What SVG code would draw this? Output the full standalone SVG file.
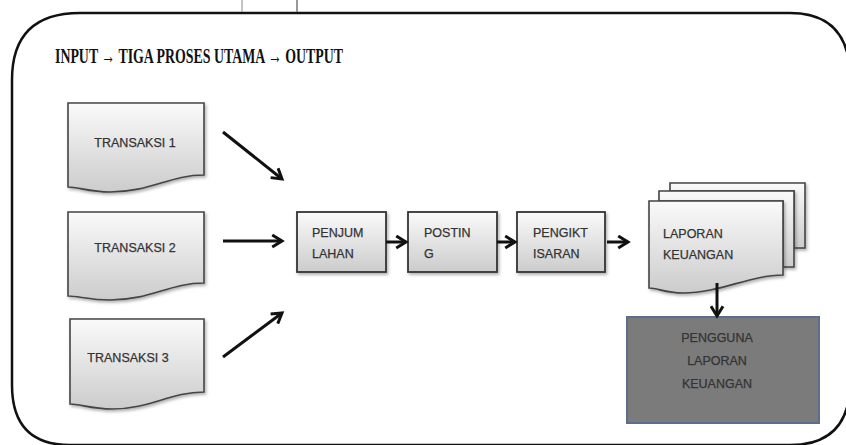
<svg xmlns="http://www.w3.org/2000/svg" width="846" height="445" viewBox="0 0 846 445">
<defs>
<linearGradient id="g" x1="0" y1="0" x2="0" y2="1">
<stop offset="0" stop-color="#fafafa"/>
<stop offset="1" stop-color="#cccccc"/>
</linearGradient>
<filter id="sh" x="-10%" y="-10%" width="130%" height="130%">
<feDropShadow dx="1.5" dy="2" stdDeviation="1.5" flood-color="#000" flood-opacity="0.3"/>
</filter>
<marker id="ah" viewBox="0 0 10 10" refX="8" refY="5" markerWidth="5" markerHeight="5" orient="auto" markerUnits="strokeWidth">
<path d="M1.5,1 L8,5 L1.5,9" fill="none" stroke="#111" stroke-width="2"/>
</marker>
</defs>
<style>
.doc{fill:url(#g);stroke:#444;stroke-width:1.6;filter:url(#sh)}
.box{fill:url(#g);stroke:#333;stroke-width:1.8;filter:url(#sh)}
.t{font-family:"Liberation Sans","Open Sans",sans-serif;font-size:12.5px;fill:#333;stroke:#333;stroke-width:0.25}
.c{stroke:#111;stroke-width:3;fill:none;marker-end:url(#ah)}
</style>
<rect width="846" height="445" fill="#fff"/>
<path d="M80,13 H790 Q846,13 850,70 V390 Q846,445 790,445 H70 Q12,445 12,385 V80 Q12,13 80,13 Z" fill="none" stroke="#111" stroke-width="2.5"/>
<line x1="242" y1="0" x2="242" y2="12" stroke="#888" stroke-width="1"/>
<line x1="297" y1="0" x2="297" y2="12" stroke="#777" stroke-width="1.5"/>
<text x="55" y="63" font-family="Liberation Serif,serif" font-weight="bold" font-size="21.5" fill="#111" textLength="288" lengthAdjust="spacingAndGlyphs">INPUT → TIGA PROSES UTAMA → OUTPUT</text>
<g id="transaksi1">
<path class="doc" d="M68,103 H204 V175 C170,175 150,192 110,192 C90,192 78,187 68,187 Z"/>
<text class="t" x="135" y="147" text-anchor="middle">TRANSAKSI 1</text>
</g>
<g id="transaksi2">
<path class="doc" d="M68,212 H204 V283 C170,283 150,300 110,300 C90,300 78,296 68,296 Z"/>
<text class="t" x="135" y="252" text-anchor="middle">TRANSAKSI 2</text>
</g>
<g id="transaksi3">
<path class="doc" d="M70,319 H204 V392 C170,392 150,409 112,409 C92,409 80,404 70,404 Z"/>
<text class="t" x="128" y="362" text-anchor="middle">TRANSAKSI 3</text>
</g>
<g id="penjumlahan">
<rect class="box" x="297" y="212" width="89" height="60"/>
<text class="t" x="312" y="237">PENJUM</text>
<text class="t" x="312" y="258">LAHAN</text>
</g>
<g id="posting">
<rect class="box" x="408" y="212" width="89" height="60" stroke-width="2.2"/>
<text class="t" x="424" y="237">POSTIN</text>
<text class="t" x="424" y="258">G</text>
</g>
<g id="pengiktisaran">
<rect class="box" x="517" y="212" width="88" height="60"/>
<text class="t" x="533" y="237">PENGIKT</text>
<text class="t" x="533" y="258">ISARAN</text>
</g>
<g id="laporan">
<path class="doc" d="M670,183 H805 V248 H794 V191 H670 Z"/>
<path class="doc" d="M659,191 H794 V267 H783 V201 H659 Z"/>
<path class="doc" d="M649,201 H783 V275 C750,275 720,293 683,293 C665,293 658,288 649,288 Z"/>
<text class="t" x="663" y="238">LAPORAN</text>
<text class="t" x="663" y="259">KEUANGAN</text>
</g>
<g id="pengguna">
<rect x="627" y="317" width="192" height="106" fill="#7b7b7b" stroke="#5b6e8c" stroke-width="2"/>
<text class="t" x="717" y="342" text-anchor="middle">PENGGUNA</text>
<text class="t" x="717" y="365" text-anchor="middle">LAPORAN</text>
<text class="t" x="717" y="388" text-anchor="middle">KEUANGAN</text>
</g>
<g id="connectors">
<line class="c" x1="223" y1="132" x2="282" y2="179"/>
<line class="c" x1="223" y1="241" x2="282" y2="241"/>
<line class="c" x1="223" y1="357" x2="282" y2="313"/>
<line class="c" x1="386" y1="242" x2="406" y2="242"/>
<line class="c" x1="497" y1="242" x2="515" y2="242"/>
<line class="c" x1="607" y1="242" x2="628" y2="242"/>
<line class="c" x1="717" y1="283" x2="717" y2="316" stroke-width="2.5"/>
</g>
</svg>
